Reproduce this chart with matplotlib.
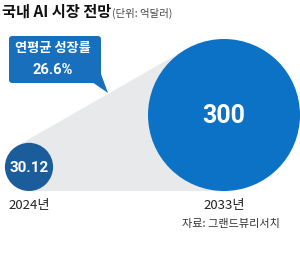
import numpy as np
import matplotlib
matplotlib.use("Agg")
import matplotlib.pyplot as plt
from matplotlib.patches import Circle, Polygon, FancyBboxPatch

plt.rcParams['font.family'] = ['Noto Sans CJK KR', 'DejaVu Sans']

# data
years = ['2024년', '2033년']
values = [30.12, 300]
value_labels = ['30.12', '300']
cagr_label = '연평균 성장률'
cagr = '26.6%'
title = '국내 AI 시장 전망'
unit = '(단위: 억달러)'
source = '자료: 그랜드뷰리서치'

fig = plt.figure(figsize=(3.0, 2.54), dpi=100)
ax = fig.add_axes([0, 0, 1, 1])
ax.set_xlim(0, 300)
ax.set_ylim(254, 0)
ax.axis('off')

# circle sizes scaled by area
k = 76 / np.sqrt(300)
radii = [k * np.sqrt(v) for v in values]
base_y = 191
cx = [29, 224]
cy = [base_y - r for r in radii]
colors = ['#1b5d9b', '#0b72c5']

# grey band: upper outer tangent between the circles
c1 = np.array([cx[0], cy[0]])
c2 = np.array([cx[1], cy[1]])
d = c2 - c1
D = np.hypot(*d)
phi = np.arctan2(d[1], d[0])
a = np.arccos((radii[0] - radii[1]) / D)
cands = [phi + a, phi - a]
ang = min(cands, key=lambda t: np.sin(t))  # pointing up on screen
n = np.array([np.cos(ang), np.sin(ang)])
p1 = c1 + radii[0] * n
p2 = c2 + radii[1] * n
band = Polygon([p1, p2, c2, (cx[1], base_y), (cx[0], base_y), c1],
               closed=True, fc='#e8e9ea', ec='none', zorder=1)
ax.add_patch(band)

for i in range(2):
    ax.add_patch(Circle((cx[i], cy[i]), radii[i], fc=colors[i], ec='none', zorder=2))

ax.text(cx[0], cy[0] + 1, value_labels[0], color='white', fontsize=11,
        fontweight='bold', ha='center', va='center', family='Roboto', zorder=3)
ax.text(cx[1], cy[1] + 1, value_labels[1], color='white', fontsize=18,
        fontweight='bold', ha='center', va='center', family='Roboto', zorder=3)

ax.text(cx[0], 206, years[0], fontsize=9.5, color='#222222', ha='center', va='center')
ax.text(cx[1], 205, years[1], fontsize=9.5, color='#222222', ha='center', va='center')
ax.text(231, 224, source, fontsize=8, color='#333333', ha='center', va='center')

# title
ax.text(2, 12, title, fontsize=11, fontweight='bold', color='#111111', va='center')
ax.text(112, 13, unit, fontsize=7.5, color='#444444', va='center')

# speech bubble
bub = FancyBboxPatch((9, 36), 92, 47, boxstyle='round,pad=0,rounding_size=3',
                     fc='#1870bd', ec='none', zorder=3)
ax.add_patch(bub)
ax.add_patch(Polygon([(92, 82), (101, 74), (108, 93)], closed=True,
                     fc='#1870bd', ec='none', zorder=3))
ax.text(53, 48, cagr_label, color='white', fontsize=9.5, fontweight='bold',
        ha='center', va='center', zorder=4)
ax.text(53, 70, cagr, color='white', fontsize=10.5, fontweight='bold',
        ha='center', va='center', family='Roboto', zorder=4)

fig.savefig('out.png', dpi=100)
